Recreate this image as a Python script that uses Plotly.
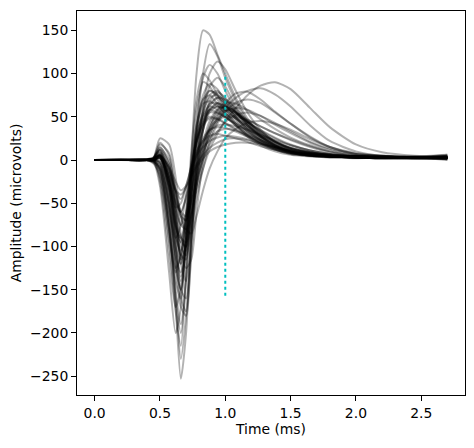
import plotly.graph_objects as go

# time grid (ms)
t_ms = [0.0, 0.2, 0.4, 0.45, 0.5, 0.57, 0.62, 0.66, 0.70, 0.74, 0.78, 0.83, 0.88,
        0.94, 1.0, 1.08, 1.17, 1.27, 1.38, 1.5, 1.65, 1.8, 2.0, 2.2, 2.45, 2.7]

# waveforms (microvolts), one row per spike, sampled at t_ms
waveforms = [
    [0, 1, 0, -2, -20, -95, -175, -215, -130, 0, 100, 150, 145, 122, 100, 72, 48, 30, 18, 10, 6, 4, 3, 2, 2, 1],
    [0, 0, 1, 0, -12, -80, -170, -253, -200, -80, 30, 100, 134, 120, 95, 68, 45, 28, 17, 10, 6, 4, 3, 3, 2, 2],
    [0, 1, 0, -3, -10, -70, -160, -230, -180, -90, 0, 60, 100, 114, 105, 80, 55, 35, 21, 12, 7, 4, 3, 2, 3, 2],
    [0, 0, 0, -2, -30, -130, -200, -170, -80, 10, 70, 100, 92, 75, 58, 42, 29, 19, 12, 7, 5, 4, 3, 3, 2, 2],
    [0, 0, -1, -2, -8, -50, -120, -170, -180, -100, -10, 55, 85, 95, 85, 62, 42, 27, 16, 9, 5, 4, 3, 2, 2, 3],
    [0, 1, 0, -4, -18, -80, -140, -160, -90, 0, 60, 90, 85, 70, 55, 40, 27, 17, 10, 6, 4, 3, 2, 3, 3, 3],
    [0, 0, 0, -1, -12, -70, -150, -190, -135, -40, 30, 75, 88, 82, 66, 50, 35, 23, 14, 8, 5, 4, 3, 2, 2, 2],
    [0, 0, 0, 0, -25, -110, -170, -150, -90, -20, 35, 70, 80, 74, 62, 47, 33, 22, 13, 8, 5, 3, 3, 2, 3, 3],
    [0, 0, 1, 2, 5, -30, -100, -160, -175, -110, -30, 35, 68, 78, 72, 57, 42, 28, 17, 10, 6, 4, 3, 3, 3, 4],
    [0, 0, 0, 0, -5, -55, -125, -150, -95, -20, 40, 70, 75, 65, 52, 40, 29, 20, 12, 7, 5, 4, 3, 3, 2, 2],
    [0, 0, 1, 3, 12, -15, -80, -120, -90, -30, 20, 55, 72, 75, 68, 55, 40, 28, 18, 11, 7, 5, 4, 3, 3, 3],
    [0, 0, 0, 2, 20, 5, -55, -120, -140, -90, -20, 35, 62, 72, 70, 60, 45, 32, 21, 13, 8, 5, 4, 3, 3, 4],
    [0, 1, 0, 0, -15, -90, -130, -110, -60, -5, 40, 65, 68, 62, 54, 44, 33, 23, 15, 10, 6, 4, 3, 3, 3, 2],
    [0, 0, 0, 1, 5, -30, -85, -110, -75, -20, 20, 45, 58, 62, 58, 48, 36, 25, 16, 10, 6, 4, 3, 3, 2, 2],
    [0, 0, 1, 2, 12, -5, -55, -90, -100, -65, -20, 20, 45, 58, 62, 55, 43, 31, 21, 13, 8, 5, 4, 4, 3, 5],
    [0, 0, 0, 0, -3, -55, -120, -150, -105, -35, 20, 55, 75, 80, 70, 55, 40, 27, 17, 10, 6, 4, 3, 2, 2, 3],
    [0, 0, 0, 1, 6, -25, -75, -95, -60, -12, 22, 45, 55, 54, 50, 42, 32, 23, 15, 9, 6, 4, 4, 3, 3, 3],
    [0, 0, 0, -1, 2, -20, -70, -110, -125, -115, -60, 0, 35, 55, 62, 56, 45, 33, 22, 14, 9, 6, 4, 3, 3, 1],
    [0, 0, 1, 2, 18, 8, -35, -85, -105, -75, -30, 10, 38, 52, 58, 54, 44, 33, 22, 14, 9, 6, 4, 4, 3, 4],
    [0, 0, 0, 0, 2, -50, -110, -140, -90, -20, 32, 62, 80, 76, 64, 50, 36, 24, 15, 9, 6, 4, 3, 3, 3, 2],
    [0, 0, 0, 1, -5, -60, -90, -75, -40, -5, 22, 42, 50, 48, 43, 36, 28, 20, 13, 8, 5, 4, 3, 3, 2, 3],
    [0, 0, 0, 2, 25, 18, -20, -65, -85, -65, -30, 5, 30, 45, 50, 48, 40, 30, 21, 13, 8, 6, 4, 4, 4, 6],
    [0, 0, 0, 0, -2, -50, -100, -120, -75, -15, 28, 52, 62, 58, 50, 40, 30, 21, 14, 9, 6, 4, 3, 3, 3, 3],
    [0, 0, 0, 1, 7, -20, -75, -110, -115, -70, -10, 35, 58, 66, 62, 51, 38, 27, 18, 11, 7, 5, 4, 3, 3, 3],
    [0, 0, 0, 0, 3, -40, -88, -105, -65, -12, 20, 40, 48, 47, 42, 35, 27, 19, 12, 8, 5, 4, 3, 3, 3, 0],
    [0, 0, 0, 1, 8, -15, -50, -75, -80, -60, -35, -10, 12, 30, 45, 60, 75, 86, 90, 82, 60, 38, 18, 9, 5, 4],
    [0, 0, 0, 0, 5, -25, -65, -90, -95, -65, -30, 0, 25, 45, 60, 72, 80, 83, 76, 62, 40, 22, 10, 5, 4, 3],
    [0, 0, 1, 2, 14, 0, -35, -62, -70, -50, -22, 8, 30, 50, 65, 77, 79, 70, 56, 42, 26, 15, 7, 5, 3, 3],
    [0, 0, 0, 1, 6, -20, -58, -75, -62, -38, -10, 16, 34, 48, 56, 60, 58, 51, 41, 31, 20, 12, 6, 4, 3, 5],
    [0, 0, 0, 0, 4, -30, -75, -95, -100, -60, -20, 15, 40, 58, 66, 65, 58, 47, 36, 26, 17, 10, 5, 4, 3, 3],
    [0, 0, 0, 1, 9, -10, -40, -60, -65, -48, -25, 0, 18, 33, 44, 52, 55, 51, 43, 33, 21, 13, 7, 4, 3, 3],
    [0, 0, 0, 0, 3, -35, -78, -90, -68, -35, -5, 20, 36, 47, 52, 50, 46, 39, 31, 23, 15, 9, 5, 4, 3, 2],
    [0, 0, 0, 1, 5, -8, -35, -65, -80, -85, -65, -35, -10, 10, 25, 36, 43, 45, 42, 35, 24, 15, 8, 5, 4, 3],
    [0, 0, 0, 0, 2, -25, -70, -100, -110, -80, -45, -10, 20, 42, 56, 66, 70, 66, 55, 42, 27, 15, 7, 5, 3, 3],
    [0, 0, 0, 0, 4, -10, -35, -45, -30, -10, 5, 15, 22, 26, 28, 27, 24, 19, 14, 10, 7, 5, 4, 3, 3, 3],
    [0, 0, 0, 1, 6, -8, -25, -35, -30, -18, -5, 6, 14, 20, 24, 25, 23, 19, 15, 11, 7, 5, 4, 3, 3, 6],
    [0, 0, 0, 0, 3, -20, -48, -60, -42, -15, 8, 25, 35, 38, 37, 33, 27, 21, 15, 10, 7, 5, 4, 3, 3, 3],
    [0, 0, 0, 0, -2, -30, -55, -50, -30, -8, 10, 22, 28, 30, 28, 25, 21, 16, 12, 8, 6, 4, 3, 3, 3, 1],
    [0, 0, 0, 1, 5, -12, -40, -65, -70, -45, -15, 10, 25, 33, 36, 34, 29, 23, 17, 12, 8, 5, 4, 3, 3, 3],
    [0, 0, 0, 0, 2, -15, -35, -40, -32, -20, -8, 2, 10, 15, 18, 20, 20, 18, 15, 11, 8, 6, 4, 3, 3, 2],
    [0, 0, 1, 2, 10, -40, -110, -130, -95, -40, 5, 40, 58, 65, 62, 55, 47, 39, 31, 24, 16, 10, 5, 4, 3, 5],
    [0, 0, 0, 1, 12, -25, -90, -150, -160, -90, -10, 40, 65, 72, 66, 55, 44, 34, 25, 17, 11, 7, 4, 3, 3, 3],
    [0, 0, 0, 0, 6, -35, -100, -135, -100, -40, 12, 48, 65, 66, 58, 48, 38, 29, 21, 14, 9, 6, 4, 3, 3, 3],
    [0, 0, 0, 1, 15, -5, -60, -115, -100, -50, 0, 35, 55, 62, 60, 53, 44, 35, 26, 18, 11, 7, 4, 3, 3, 3],
    [0, 0, 0, 0, -8, -80, -125, -110, -70, -20, 25, 50, 58, 55, 49, 42, 35, 27, 20, 14, 9, 6, 4, 3, 2, 3],
    [0, 0, 0, 1, 4, -25, -50, -60, -45, -20, 5, 22, 34, 40, 41, 39, 35, 29, 23, 17, 11, 7, 4, 3, 3, 4],
    [0, 0, 0, -1, -10, -75, -160, -200, -140, -40, 45, 95, 110, 100, 80, 58, 40, 26, 16, 9, 5, 4, 3, 2, 2, 2],
]

# marker line (cyan dotted)
marker_x = [1.0, 1.0]
marker_y = [-157, 100]

x_ticks = [0.0, 0.5, 1.0, 1.5, 2.0, 2.5]
x_tick_labels = ["0.0", "0.5", "1.0", "1.5", "2.0", "2.5"]
y_ticks = [-250, -200, -150, -100, -50, 0, 50, 100, 150]
y_tick_labels = ["\u2212250", "\u2212200", "\u2212150", "\u2212100", "\u221250", "0", "50", "100", "150"]

fig = go.Figure()
for w in waveforms:
    fig.add_trace(go.Scatter(x=t_ms, y=w, mode="lines",
                             line=dict(color="rgba(0,0,0,0.3)", width=2,
                                       shape="spline", smoothing=0.7),
                             hoverinfo="skip", showlegend=False))
fig.add_trace(go.Scatter(x=marker_x, y=marker_y, mode="lines",
                         line=dict(color="#00bfbf", width=2, dash="dot"),
                         hoverinfo="skip", showlegend=False))

txt_font = dict(family="DejaVu Sans", size=13.9, color="black")
axis_common = dict(showgrid=False, zeroline=False, showline=True, linecolor="black",
                   linewidth=1, mirror=True, ticks="outside", ticklen=5, tickwidth=1,
                   tickcolor="black", automargin=False, tickfont=txt_font)

fig.update_layout(
    width=474, height=448,
    margin=dict(l=77, r=9, t=11, b=53),
    paper_bgcolor="white", plot_bgcolor="white",
    font=txt_font,
    hovermode=False,
    xaxis=dict(range=[-0.135, 2.835], tickvals=x_ticks, ticktext=x_tick_labels,
               title=dict(text="Time (ms)", standoff=4, font=txt_font), **axis_common),
    yaxis=dict(range=[-271.7, 172.3], tickvals=y_ticks, ticktext=y_tick_labels,
               title=dict(text="Amplitude (microvolts)", standoff=5, font=txt_font), **axis_common),
)

fig.write_html("out.html", config={"displayModeBar": False},
               post_script="document.body.style.margin='0';document.body.style.overflow='hidden';")
